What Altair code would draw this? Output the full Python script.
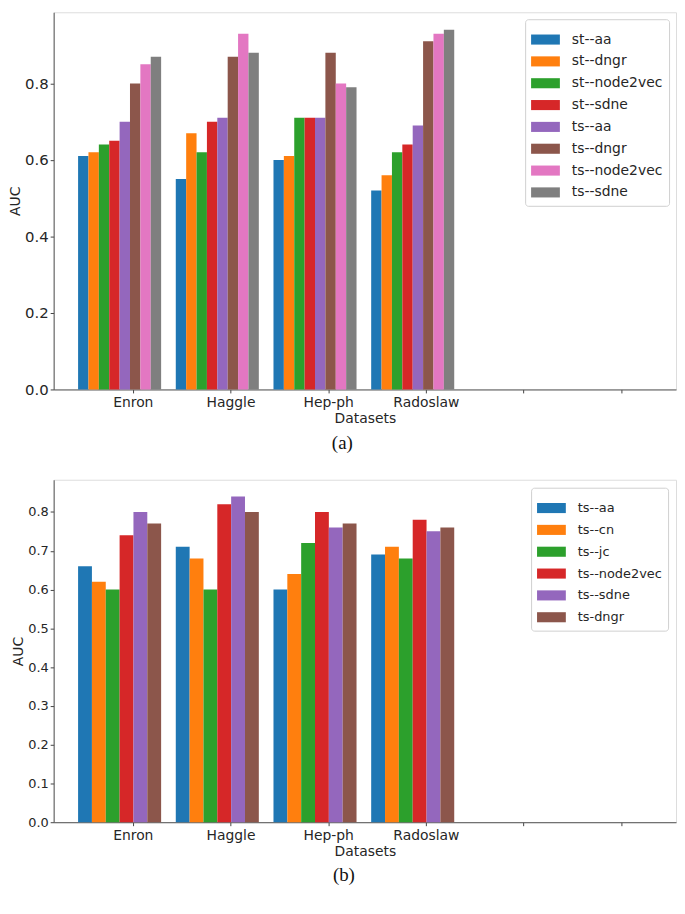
import altair as alt
import pandas as pd

datasets = ["Enron", "Haggle", "Hep-ph", "Radoslaw"]

methods_a = ["st--aa", "st--dngr", "st--node2vec", "st--sdne",
             "ts--aa", "ts--dngr", "ts--node2vec", "ts--sdne"]
values_a = {
    "Enron":    [0.61, 0.62, 0.64, 0.65, 0.70, 0.80, 0.85, 0.87],
    "Haggle":   [0.55, 0.67, 0.62, 0.70, 0.71, 0.87, 0.93, 0.88],
    "Hep-ph":   [0.60, 0.61, 0.71, 0.71, 0.71, 0.88, 0.80, 0.79],
    "Radoslaw": [0.52, 0.56, 0.62, 0.64, 0.69, 0.91, 0.93, 0.94],
}

methods_b = ["ts--aa", "ts--cn", "ts--jc", "ts--node2vec", "ts--sdne", "ts-dngr"]
values_b = {
    "Enron":    [0.66, 0.62, 0.60, 0.74, 0.80, 0.77],
    "Haggle":   [0.71, 0.68, 0.60, 0.82, 0.84, 0.80],
    "Hep-ph":   [0.60, 0.64, 0.72, 0.80, 0.76, 0.77],
    "Radoslaw": [0.69, 0.71, 0.68, 0.78, 0.75, 0.76],
}

tab10 = ["#1f77b4", "#ff7f0e", "#2ca02c", "#d62728",
         "#9467bd", "#8c564b", "#e377c2", "#7f7f7f"]

x_ticks = [0, 1, 2, 3, 4, 5]
label_expr = "[" + ",".join("'%s'" % d for d in datasets) + "][datum.value] || ''"
FONT = "DejaVu Sans"
TXT = "#262626"
LEG_PATH = "M-1,-0.35L1,-0.35L1,0.35L-1,0.35Z"
NOPAD = {"left": 0, "top": 0, "right": 0, "bottom": 0}


def build_df(methods, values):
    rows = []
    for gi, d in enumerate(datasets):
        for si, m in enumerate(methods):
            rows.append({"dataset": d, "method": m, "gi": gi, "si": si,
                         "n": len(methods), "AUC": values[d][si]})
    return pd.DataFrame(rows)


def panel(methods, values, width, height, ymax, ystep, yfs, xfs, lfs,
          leg_row, leg_offset, caption):
    df = build_df(methods, values)
    yvals = [round(i * ystep, 2) for i in range(int(round(0.8 / ystep)) + 1)]
    return alt.Chart(df).transform_calculate(
        x0="datum.gi - 0.56 + datum.si * 0.85 / datum.n",
        x1="datum.gi - 0.56 + (datum.si + 1) * 0.85 / datum.n",
    ).mark_bar(stroke=None).encode(
        x=alt.X("x0:Q",
                scale=alt.Scale(domain=[-0.81, 5.56], nice=False, zero=False),
                axis=alt.Axis(values=x_ticks, labelExpr=label_expr, title="Datasets",
                              grid=False, labelFontSize=xfs, titleFontSize=xfs,
                              labelFont=FONT, titleFont=FONT, labelColor=TXT, titleColor=TXT,
                              titleFontWeight="normal", tickSize=3.5, labelPadding=3,
                              titlePadding=2, domainColor="#555", tickColor="#444")),
        x2="x1:Q",
        y=alt.Y("AUC:Q",
                scale=alt.Scale(domain=[0, ymax], nice=False),
                axis=alt.Axis(values=yvals, format=".1f", title="AUC", grid=False,
                              labelFontSize=yfs, titleFontSize=xfs,
                              labelFont=FONT, titleFont=FONT, labelColor=TXT, titleColor=TXT,
                              titleFontWeight="normal", tickSize=3.5, labelPadding=2,
                              titlePadding=2, domainColor="#555", tickColor="#444")),
        y2=alt.datum(0),
        color=alt.Color("method:N", sort=methods,
                        scale=alt.Scale(domain=methods, range=tab10[:len(methods)]),
                        legend=alt.Legend(title=None, orient="top-right", offset=leg_offset,
                                          symbolType=LEG_PATH, symbolSize=841,
                                          symbolStrokeWidth=0, symbolOpacity=1,
                                          labelFontSize=lfs, labelFont=FONT,
                                          labelColor=TXT, labelOffset=12,
                                          rowPadding=leg_row, padding=6,
                                          fillColor="white", strokeColor="#d0d0d0",
                                          cornerRadius=3)),
    ).properties(
        width=width, height=height,
        title=alt.TitleParams(caption, orient="bottom", anchor="middle", frame="bounds",
                              font="Liberation Serif", fontSize=19, fontWeight="normal",
                              color="#111", offset=8),
    )


chart_a = panel(methods_a, values_a, 627, 380, 0.986, 0.2, 15, 14, 14, -2.6, 7, "(a)")
chart_b = panel(methods_b, values_b, 627, 345, 0.883, 0.1, 13, 14, 13, -7.3, 8, "(b)")

chart = alt.vconcat(chart_a, chart_b, spacing=26, padding=NOPAD).resolve_scale(
    color="independent"
).resolve_legend(
    color="independent"
).configure_view(
    stroke="#666", strokeWidth=1,
).configure(background="white", padding=NOPAD)

chart.save("out.html", embed_options={"renderer": "svg", "actions": False})
